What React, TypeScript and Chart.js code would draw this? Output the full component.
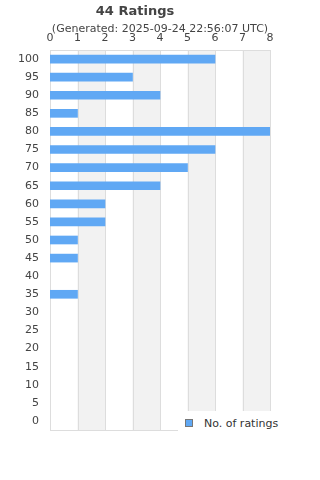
import React, { useEffect, useRef } from "react";
import { Chart, registerables } from "chart.js";

Chart.register(...registerables);

const categories = ["100", "95", "90", "85", "80", "75", "70", "65", "60", "55", "50", "45", "40", "35", "30", "25", "20", "15", "10", "5", "0"];
const ratingCounts = [6, 3, 4, 1, 8, 6, 5, 4, 2, 2, 1, 1, 0, 1, 0, 0, 0, 0, 0, 0, 0];
const xTicks = [0, 1, 2, 3, 4, 5, 6, 7, 8];
const titleText = "44 Ratings";
const subtitleText = "(Generated: 2025-09-24 22:56:07 UTC)";
const seriesLabel = "No. of ratings";

const BAR_COLOR = "#60a8f4";
const FONT = "'DejaVu Sans', sans-serif";

const bandsPlugin = {
  id: "bands",
  beforeDatasetsDraw(chart: any) {
    const { ctx, chartArea, scales } = chart;
    const x = scales.x;
    ctx.save();
    ctx.fillStyle = "#f2f2f2";
    for (let i = 1; i < xTicks.length - 1; i += 2) {
      const x0 = x.getPixelForValue(xTicks[i]);
      const x1 = x.getPixelForValue(xTicks[i + 1]);
      ctx.fillRect(x0, chartArea.top, x1 - x0, chartArea.bottom - chartArea.top);
    }
    ctx.strokeStyle = "#dddddd";
    ctx.lineWidth = 1;
    for (const t of xTicks) {
      const px = Math.round(x.getPixelForValue(t)) + 0.5;
      ctx.beginPath();
      ctx.moveTo(px, chartArea.top);
      ctx.lineTo(px, chartArea.bottom);
      ctx.stroke();
    }
    ctx.strokeRect(
      Math.round(chartArea.left) + 0.5,
      Math.round(chartArea.top) + 0.5,
      Math.round(chartArea.right - chartArea.left),
      Math.round(chartArea.bottom - chartArea.top)
    );
    ctx.restore();
  },
};

const subtitleOverlay = {
  id: "subtitleOverlay",
  afterDraw(chart: any) {
    const { ctx, width } = chart;
    ctx.save();
    ctx.font = `11px ${FONT}`;
    ctx.fillStyle = "#444";
    ctx.textAlign = "center";
    ctx.textBaseline = "middle";
    ctx.fillText(subtitleText, width / 2, 29.5);
    ctx.restore();
  },
};

export default function App() {
  const canvasRef = useRef<HTMLCanvasElement | null>(null);

  useEffect(() => {
    document.body.style.margin = "0";
    const canvas = canvasRef.current;
    if (!canvas) return;
    const chart = new Chart(canvas, {
      type: "bar",
      data: {
        labels: categories,
        datasets: [
          {
            label: seriesLabel,
            data: ratingCounts.map((v) => (v === 0 ? null : v)),
            backgroundColor: BAR_COLOR,
            barThickness: 8,
          },
        ],
      },
      options: {
        indexAxis: "y",
        animation: false,
        responsive: false,
        maintainAspectRatio: false,
        layout: { padding: { left: 0, right: 50, top: 0, bottom: 50 } },
        plugins: {
          legend: { display: false },
          tooltip: { enabled: false },
          title: {
            display: true,
            text: titleText,
            color: "#444",
            font: { family: FONT, size: 13, weight: "bold" },
            padding: { top: 4, bottom: 0 },
          },
        },
        scales: {
          x: {
            position: "top",
            min: 0,
            max: 8,
            grid: { display: false, drawTicks: false },
            border: { display: false },
            ticks: {
              stepSize: 1,
              color: "#444",
              padding: 5,
              font: { family: FONT, size: 11 },
            },
            afterFit(scale: any) {
              scale.height = 30.4;
            },
          },
          y: {
            grid: { display: false, drawTicks: false },
            border: { display: false },
            ticks: {
              color: "#444",
              padding: 11,
              autoSkip: false,
              font: { family: FONT, size: 11 },
            },
            afterFit(scale: any) {
              scale.width = 50;
            },
          },
        },
      },
      plugins: [bandsPlugin, subtitleOverlay],
    } as any);
    return () => chart.destroy();
  }, []);

  return (
    <div style={{ position: "relative", width: 320, height: 480 }}>
      <canvas ref={canvasRef} width={320} height={480} style={{ display: "block" }} />
      <div
        style={{
          position: "absolute",
          left: 178,
          top: 411,
          width: 142,
          height: 24,
          background: "#fff",
          display: "flex",
          alignItems: "center",
          fontFamily: FONT,
          fontSize: 11,
          color: "#333",
        }}
      >
        <span
          style={{
            display: "inline-block",
            width: 6,
            height: 6,
            marginLeft: 7,
            marginRight: 11,
            background: BAR_COLOR,
            border: "1px solid #777",
          }}
        />
        <span>{seriesLabel}</span>
      </div>
    </div>
  );
}
